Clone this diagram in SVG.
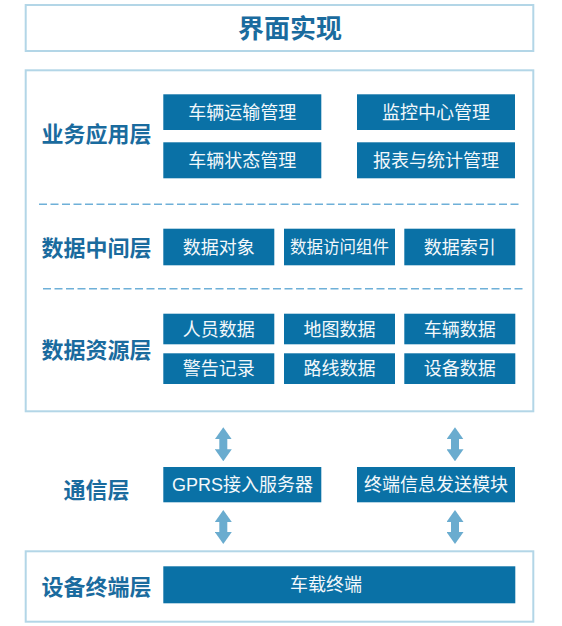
<svg xmlns="http://www.w3.org/2000/svg" width="562" height="626" viewBox="0 0 562 626">
<defs>
<style>
.frame{fill:#ffffff;stroke:#b3d6e7;stroke-width:2}
.box{fill:#0a71a6}
.bt{font-family:"Liberation Sans","Noto Sans CJK SC",sans-serif;font-size:18px;fill:#f3f8fb;text-anchor:middle}
.lbl{font-family:"Noto Sans CJK SC","Noto Sans",sans-serif;font-size:22px;font-weight:bold;fill:#1a6b9e;text-anchor:middle}
.title{font-family:"Noto Sans CJK SC","Noto Sans",sans-serif;font-size:26px;font-weight:bold;fill:#1a6b9e;text-anchor:middle}
.dash{stroke:#6eb0d8;stroke-width:1.6;stroke-dasharray:8 3.5;fill:none}
.arr{stroke:#6aaccf;stroke-width:8;fill:none;marker-start:url(#ah);marker-end:url(#ah)}
</style>
<marker id="ah" viewBox="0 0 12 17" refX="1" refY="8.5" markerWidth="12" markerHeight="17" markerUnits="userSpaceOnUse" orient="auto-start-reverse">
<path d="M0,0 L12,8.5 L0,17 Z" fill="#6aaccf"/>
</marker>
</defs>
<rect width="562" height="626" fill="#ffffff"/>

<g id="ui">
<rect class="frame" x="25.7" y="5" width="507.6" height="46"/>
<text class="title" x="290" y="37.8">界面实现</text>
</g>

<g id="main-frame">
<rect class="frame" x="25.7" y="70.3" width="507.6" height="341"/>
<line class="dash" x1="39" y1="204.3" x2="519" y2="204.3"/>
<line class="dash" x1="43" y1="288.7" x2="524" y2="288.7"/>
</g>

<g id="business-layer">
<text class="lbl" x="96.5" y="142.2">业务应用层</text>
</g>
<g id="vehicle-transport">
<rect class="box" x="163.3" y="94.3" width="158" height="35.7"/>
<text class="bt" x="242.3" y="118.7">车辆运输管理</text>
</g>
<g id="monitor-center">
<rect class="box" x="357" y="94.3" width="158" height="35.7"/>
<text class="bt" x="436" y="118.7">监控中心管理</text>
</g>
<g id="vehicle-status">
<rect class="box" x="163.3" y="142.3" width="158" height="36"/>
<text class="bt" x="242.3" y="166.8">车辆状态管理</text>
</g>
<g id="report-stats">
<rect class="box" x="357" y="142.3" width="158" height="36"/>
<text class="bt" x="436" y="166.8">报表与统计管理</text>
</g>

<g id="data-middle-layer">
<text class="lbl" x="96.5" y="255.7">数据中间层</text>
</g>
<g id="data-object">
<rect class="box" x="163.3" y="228.7" width="111" height="36.6"/>
<text class="bt" x="218.8" y="253.5">数据对象</text>
</g>
<g id="data-access">
<rect class="box" x="284" y="228.7" width="111" height="36.6"/>
<text class="bt" x="339.5" y="253.2" style="font-size:16.5px">数据访问组件</text>
</g>
<g id="data-index">
<rect class="box" x="404.3" y="228.7" width="111" height="36.6"/>
<text class="bt" x="459.8" y="253.5">数据索引</text>
</g>

<g id="data-resource-layer">
<text class="lbl" x="96.5" y="357.7">数据资源层</text>
</g>
<g id="person-data">
<rect class="box" x="163.3" y="313.7" width="111" height="30.6"/>
<text class="bt" x="218.8" y="335.5">人员数据</text>
</g>
<g id="map-data">
<rect class="box" x="284" y="313.7" width="111" height="30.6"/>
<text class="bt" x="339.5" y="335.5">地图数据</text>
</g>
<g id="vehicle-data">
<rect class="box" x="404.3" y="313.7" width="111" height="30.6"/>
<text class="bt" x="459.8" y="335.5">车辆数据</text>
</g>
<g id="alarm-record">
<rect class="box" x="163.3" y="353.3" width="111" height="30.7"/>
<text class="bt" x="218.8" y="375.2">警告记录</text>
</g>
<g id="route-data">
<rect class="box" x="284" y="353.3" width="111" height="30.7"/>
<text class="bt" x="339.5" y="375.2">路线数据</text>
</g>
<g id="device-data">
<rect class="box" x="404.3" y="353.3" width="111" height="30.7"/>
<text class="bt" x="459.8" y="375.2">设备数据</text>
</g>

<g id="comm-layer">
<text class="lbl" x="96.5" y="497.7">通信层</text>
</g>
<g id="gprs-server">
<rect class="box" x="163.3" y="467" width="158" height="35.3"/>
<text class="bt" x="242.5" y="491.2">GPRS接入服务器</text>
</g>
<g id="terminal-sender">
<rect class="box" x="357" y="467" width="158" height="35.3"/>
<text class="bt" x="436" y="491.2">终端信息发送模块</text>
</g>

<g id="device-layer">
<rect class="frame" x="25.7" y="551.3" width="507.6" height="70.4"/>
<text class="lbl" x="96.5" y="595.1">设备终端层</text>
</g>
<g id="vehicle-terminal">
<rect class="box" x="163.3" y="566.3" width="352" height="37"/>
<text class="bt" x="326" y="591.3">车载终端</text>
</g>

<g id="connectors">
<line class="arr" x1="223.3" y1="438.3" x2="223.3" y2="450.3"/>
<line class="arr" x1="455" y1="438.3" x2="455" y2="450.3"/>
<line class="arr" x1="223.3" y1="521" x2="223.3" y2="533"/>
<line class="arr" x1="455" y1="521" x2="455" y2="533"/>
</g>
</svg>
